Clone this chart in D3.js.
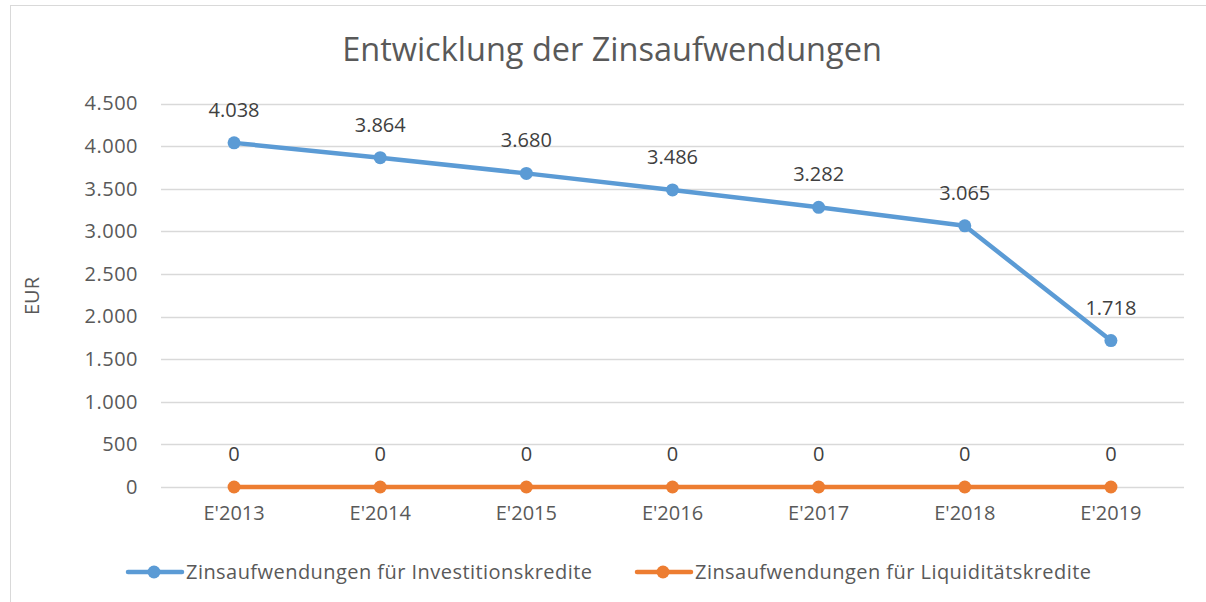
<!DOCTYPE html>
<html>
<head>
<meta charset="utf-8">
<script src="https://cdn.jsdelivr.net/npm/d3@7"></script>
<style>
  body { margin: 0; background: #fff; }
  text { font-family: "Open Sans", "Liberation Sans", sans-serif; }
</style>
</head>
<body>
<div id="chart"></div>
<script>
// Daten
const categories = ["E'2013", "E'2014", "E'2015", "E'2016", "E'2017", "E'2018", "E'2019"];
const investValues = [4038, 3864, 3680, 3486, 3282, 3065, 1718];
const liquidValues = [0, 0, 0, 0, 0, 0, 0];
const yTicks = [0, 500, 1000, 1500, 2000, 2500, 3000, 3500, 4000, 4500];
const seriesNames = ["Zinsaufwendungen für Investitionskredite", "Zinsaufwendungen für Liquiditätskredite"];

const width = 1206, height = 602;
const colors = ["#5b9bd5", "#ed7d31"];
const fmt = d3.formatLocale({ decimal: ",", thousands: ".", grouping: [3], currency: ["", " €"] }).format(",d");

const svg = d3.select('#chart').append('svg')
    .attr('width', width)
    .attr('height', height);

// Rahmen
svg.append('rect')
    .attr('x', 10.5).attr('y', 5.5)
    .attr('width', width + 10).attr('height', height + 10)
    .attr('fill', '#fff')
    .attr('stroke', '#d9d9d9');

const x = d3.scaleBand().domain(categories).range([161, 1184]);
const y = d3.scaleLinear().domain([0, 4500]).range([487, 103.5]);

// Titel
svg.append('text')
    .attr('x', 612).attr('y', 61)
    .attr('text-anchor', 'middle')
    .attr('font-size', 32.5)
    .attr('fill', '#595959')
    .text('Entwicklung der Zinsaufwendungen');

// Gitterlinien
svg.append('g')
    .selectAll('line')
    .data(yTicks)
    .join('line')
    .attr('x1', 161).attr('x2', 1184)
    .attr('y1', d => Math.round(y(d)) + 0.5)
    .attr('y2', d => Math.round(y(d)) + 0.5)
    .attr('stroke', '#d9d9d9')
    .attr('stroke-width', 1.5);

// Y-Achse
const yAxis = svg.append('g')
    .attr('transform', 'translate(138,0)')
    .call(d3.axisLeft(y).tickValues(yTicks).tickSize(0).tickPadding(0).tickFormat(fmt));
yAxis.select('.domain').remove();
yAxis.selectAll('text')
    .attr('font-size', 20)
    .attr('letter-spacing', 0.5)
    .attr('fill', '#595959');

// X-Achse
const xAxis = svg.append('g')
    .attr('transform', 'translate(0,506)')
    .call(d3.axisBottom(x).tickSize(0).tickPadding(0));
xAxis.select('.domain').remove();
xAxis.selectAll('text')
    .attr('font-size', 20)
    .attr('fill', '#595959');

// Achsentitel
svg.append('text')
    .attr('transform', 'translate(39,296) rotate(-90)')
    .attr('text-anchor', 'middle')
    .attr('font-size', 20)
    .attr('fill', '#595959')
    .text('EUR');

// Linien
const line = d3.line()
    .x((d, i) => x(categories[i]) + x.bandwidth() / 2)
    .y(d => y(d));

[investValues, liquidValues].forEach((values, s) => {
    const g = svg.append('g');
    g.append('path')
        .datum(values)
        .attr('d', line)
        .attr('fill', 'none')
        .attr('stroke', colors[s])
        .attr('stroke-width', 4.5)
        .attr('stroke-linejoin', 'round');
    g.selectAll('circle')
        .data(values)
        .join('circle')
        .attr('cx', (d, i) => x(categories[i]) + x.bandwidth() / 2)
        .attr('cy', d => y(d))
        .attr('r', 6.5)
        .attr('fill', colors[s]);
    g.selectAll('text')
        .data(values)
        .join('text')
        .attr('x', (d, i) => x(categories[i]) + x.bandwidth() / 2)
        .attr('y', d => y(d) - 26)
        .attr('text-anchor', 'middle')
        .attr('font-size', 20)
        .attr('fill', '#404040')
        .text(d => fmt(d));
});

// Legende
const legendX = [128, 637];
seriesNames.forEach((name, s) => {
    const lg = svg.append('g').attr('transform', `translate(${legendX[s]},572)`);
    lg.append('line')
        .attr('x1', 0).attr('x2', 54)
        .attr('stroke', colors[s])
        .attr('stroke-width', 4.5)
        .attr('stroke-linecap', 'round');
    lg.append('circle')
        .attr('cx', 26).attr('r', 6.5)
        .attr('fill', colors[s]);
    lg.append('text')
        .attr('x', 58).attr('dy', '0.35em')
        .attr('font-size', 20)
        .attr('letter-spacing', 0.45)
        .attr('fill', '#595959')
        .text(name);
});
</script>
</body>
</html>
